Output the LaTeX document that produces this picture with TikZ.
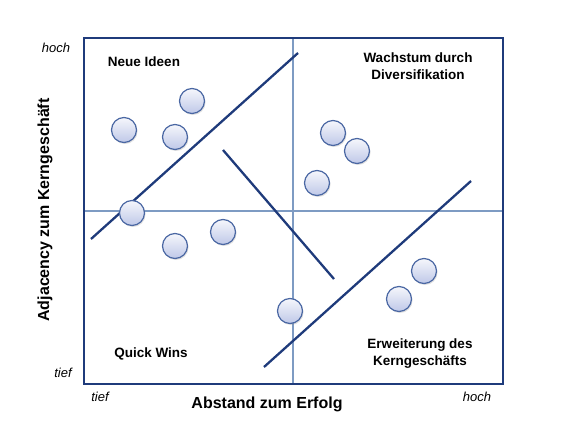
\documentclass[tikz,border=0pt]{standalone}
\usepackage{fontspec}
\setmainfont{Liberation Sans}
\usetikzlibrary{calc,shadows}
\definecolor{frameblue}{HTML}{1F3B7B}
\definecolor{midblue}{HTML}{7E9BC3}
\definecolor{dotedge}{HTML}{4A67A3}
\definecolor{dotfill}{HTML}{BFC8E8}

\begin{document}
\begin{tikzpicture}[x=1pt,y=-1pt,
  dot/.style={circle,minimum size=25pt,inner sep=0pt,draw=dotedge,line width=1.2pt,
    top color=white!85!dotfill,bottom color=dotfill,drop shadow={shadow xshift=1pt,shadow yshift=-1.5pt,opacity=0.25}},
  field/.style={font=\bfseries\fontsize{13.5}{17}\selectfont,align=center},
  tick/.style={font=\itshape\fontsize{13}{15}\selectfont}]
\useasboundingbox (0,0) rectangle (567,430);
% quadrant lines
\draw[midblue,line width=1.3pt] (293,38) -- (293,384);
\draw[midblue,line width=1.3pt] (84,211) -- (503,211);
\draw[frameblue,line width=2.3pt] (84,38) rectangle (503,384);
% borders between groups
\coordinate (a1) at (91,239);  \coordinate (a2) at (298,53);
\coordinate (b1) at (223,150); \coordinate (b2) at (334,279);
\coordinate (c1) at (264,367); \coordinate (c2) at (471,181);
\draw[frameblue,line width=2.3pt] (a1) -- (a2);
\draw[frameblue,line width=2.3pt] (b1) -- (b2);
\draw[frameblue,line width=2.3pt] (c1) -- (c2);
% ideas
\node[dot] (p1) at (192,101) {};
\node[dot] (p2) at (124,130) {};
\node[dot] (p3) at (175,137) {};
\node[dot] (p4) at (132,213) {};
\node[dot] (p5) at (175,246) {};
\node[dot] (p6) at (223,232) {};
\node[dot] (p7) at (333,133) {};
\node[dot] (p8) at (357,151) {};
\node[dot] (p9) at (317,183) {};
\node[dot] (p10) at (424,271) {};
\node[dot] (p11) at (399,299) {};
\node[dot] (p12) at (290,311) {};
% quadrant names
\node[field] (neu) at (144,62) {Neue Ideen};
\node[field] (wachs) at (418,66) {Wachstum durch\\Diversifikation};
\node[field] (quick) at (151,354) {Quick Wins};
\node[field] (erw) at (420,354) {Erweiterung des\\Kerngeschäfts};
% axes
\node[tick] (yhoch) at (56,48) {hoch};
\node[tick] (ytief) at (63,373) {tief};
\node[tick] (xtief) at (100,397) {tief};
\node[tick] (xhoch) at (477,397) {hoch};
\node[font=\bfseries\fontsize{16}{18}\selectfont] (xlab) at (267,404) {Abstand zum Erfolg};
\node[font=\bfseries\fontsize{16}{18}\selectfont,rotate=90] (ylab) at (45,210) {Adjacency zum Kerngeschäft};
\end{tikzpicture}
\end{document}
